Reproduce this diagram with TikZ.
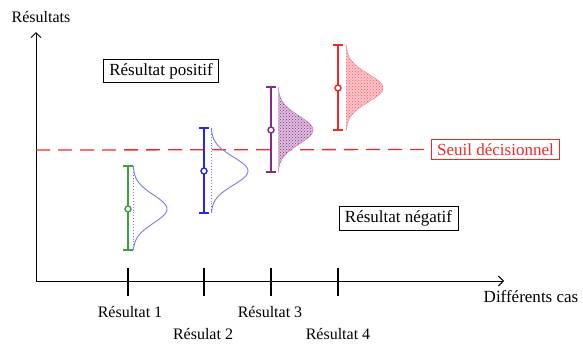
\documentclass[tikz,border=0pt]{standalone}
\usepackage{fontspec}
\setmainfont{Liberation Serif}
\usetikzlibrary{patterns,arrows.meta}
\definecolor{cgreen}{RGB}{60,160,60}
\definecolor{cblue}{RGB}{40,40,235}
\definecolor{cbluelight}{RGB}{120,120,245}
\definecolor{cpurple}{RGB}{140,40,140}
\definecolor{cred}{RGB}{240,40,40}
\definecolor{cpink}{RGB}{245,90,100}
\tikzset{
  axis/.style={line width=0.9pt,-{Straight Barb[length=5pt,width=10pt]}},
  tickmark/.style={line width=2.6pt},
  labelbox/.style={draw,line width=0.8pt,inner xsep=6pt,inner ysep=4pt,font=\fontsize{17}{19}\selectfont},
  axislabel/.style={font=\fontsize{17}{19}\selectfont},
  caselabel/.style={font=\fontsize{16}{18}\selectfont,inner sep=1pt},
  bar/.style={line width=1.8pt},
  mean/.style={circle,draw,line width=1.4pt,fill=white,inner sep=0pt,minimum size=6pt},
  threshold/.style={cred,line width=1.3pt,dash pattern=on 14pt off 8pt},
}
% error bar with caps and mean marker: #1 colour, #2 x, #3 top, #4 bottom, #5 mean, #6 name
\newcommand{\errbar}[6]{%
  \coordinate (#6top) at (#2,#3);
  \coordinate (#6bot) at (#2,#4);
  \draw[bar,#1] (#6top) -- (#6bot);
  \draw[bar,#1] ([xshift=-5pt]#6top) -- ([xshift=5pt]#6top);
  \draw[bar,#1] ([xshift=-5pt]#6bot) -- ([xshift=5pt]#6bot);
  \node[mean,draw=#1] (#6mean) at (#2,#5) {};
}
\begin{document}
\begin{tikzpicture}[x=1pt,y=-1pt]
\useasboundingbox (0,0) rectangle (583,343);

% axes
\coordinate (origin) at (36,281);
\coordinate (ytip) at (36,32);
\coordinate (xtip) at (504,281);
\draw[axis] (origin) -- (ytip);
\draw[axis] (origin) -- (xtip);
\node[axislabel,font=\fontsize{16}{18}\selectfont] (ylab) at (41,17) {Résultats};
\node[axislabel] (xlab) at (531,297) {Différents cas};

% decision threshold
\coordinate (thstart) at (36,150);
\node[labelbox,draw=cred,text=cred] (seuil) at (495.5,149.5) {Seuil décisionnel};
\draw[threshold] (thstart) -- (seuil.west);

% region labels
\node[labelbox] (pos) at (161,71) {Résultat positif};
\node[labelbox] (neg) at (398.5,218.5) {Résultat négatif};

% case 1 (green): open curve
\draw[cbluelight,line width=0.9pt,dotted] (133,166) -- (133,250);
\draw[cbluelight,line width=0.9pt] plot[domain=166:250,samples=60,smooth]
  ({133+34*exp(-((\x-209)/14)^2/2)},\x);
\errbar{cgreen}{128}{166}{250}{209}{caseA}

% case 2 (blue): open curve
\draw[cbluelight,line width=0.9pt,dotted] (211,128) -- (211,213);
\draw[cbluelight,line width=0.9pt] plot[domain=128:213,samples=60,smooth]
  ({211+37*exp(-((\x-171)/14)^2/2)},\x);
\errbar{cblue}{204}{128}{213}{171}{caseB}

% case 3 (purple): dotted fill
\fill[cpurple!30] (278,87) --
  plot[domain=87:172,samples=60,smooth] ({278+35*exp(-((\x-130)/14)^2/2)},\x) -- (278,172) -- cycle;
\fill[pattern=crosshatch dots,pattern color=cpurple] (278,87) --
  plot[domain=87:172,samples=60,smooth] ({278+35*exp(-((\x-130)/14)^2/2)},\x) -- (278,172) -- cycle;
\draw[cpurple!60,line width=0.5pt] plot[domain=87:172,samples=60,smooth]
  ({278+35*exp(-((\x-130)/14)^2/2)},\x);
\errbar{cpurple}{271}{87}{172}{130}{caseC}

% case 4 (red): dotted fill
\fill[cpink!35] (346,45) --
  plot[domain=45:130,samples=60,smooth] ({346+37*exp(-((\x-88)/14)^2/2)},\x) -- (346,130) -- cycle;
\fill[pattern=crosshatch dots,pattern color=cpink] (346,45) --
  plot[domain=45:130,samples=60,smooth] ({346+37*exp(-((\x-88)/14)^2/2)},\x) -- (346,130) -- cycle;
\draw[cpink!70,line width=0.5pt] plot[domain=45:130,samples=60,smooth]
  ({346+37*exp(-((\x-88)/14)^2/2)},\x);
\errbar{cred}{338}{45}{130}{88}{caseD}

% ticks on the case axis
\foreach \n/\xx in {1/128,2/204,3/271,4/338}{
  \coordinate (tick\n top) at (\xx,268);
  \coordinate (tick\n bot) at (\xx,296);
  \draw[tickmark] (tick\n top) -- (tick\n bot);
}
\node[caselabel] (lab1) at (130,312) {Résultat 1};
\node[caselabel] (lab2) at (203,334) {Résulat 2};
\node[caselabel] (lab3) at (270,312) {Résultat 3};
\node[caselabel] (lab4) at (338,334) {Résultat 4};
\end{tikzpicture}
\end{document}
